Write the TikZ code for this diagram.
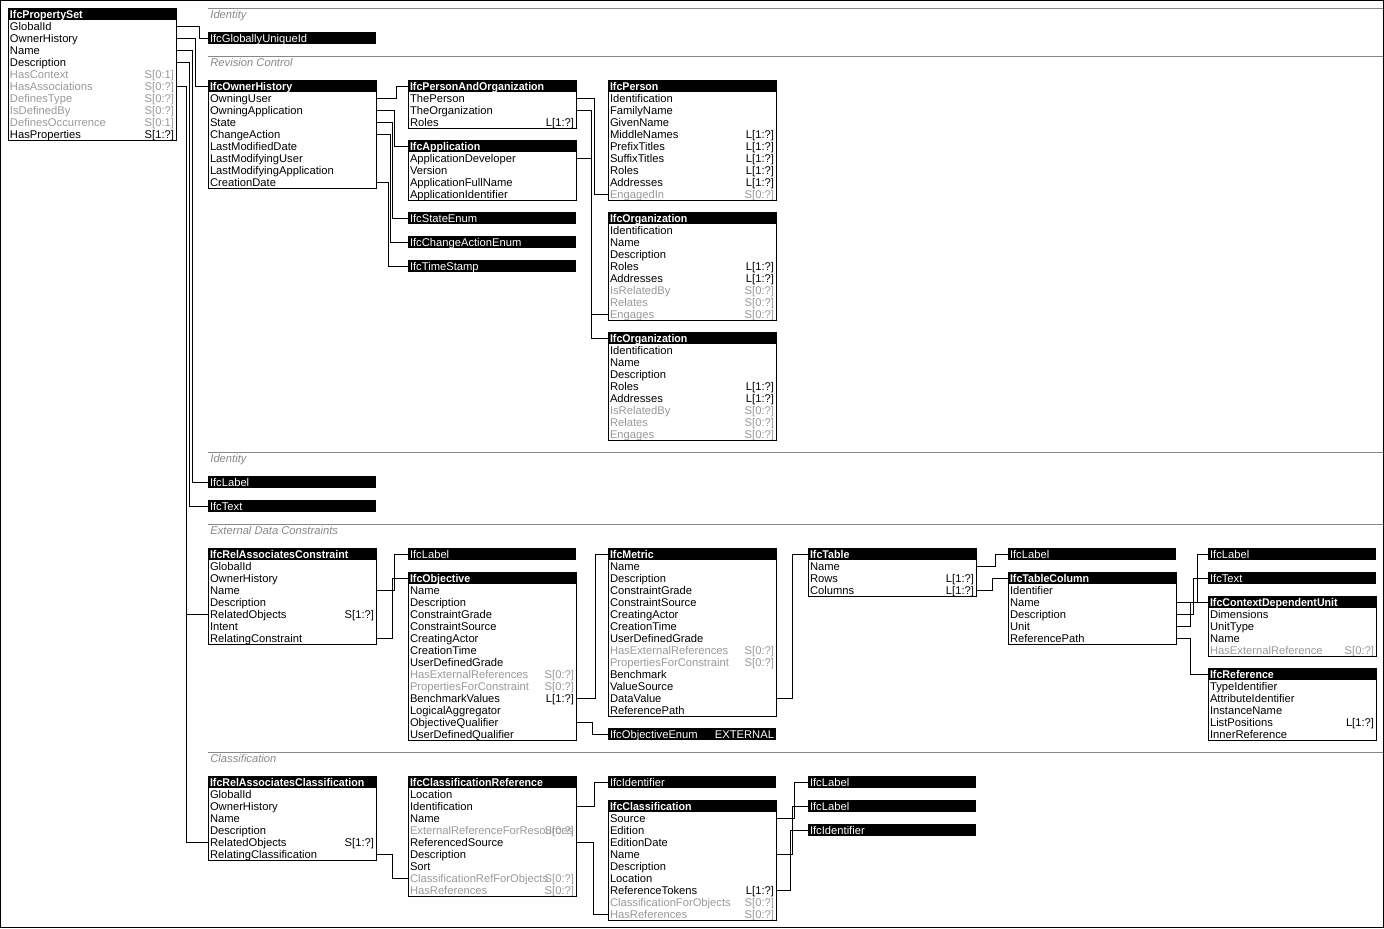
\documentclass[tikz,border=0pt]{standalone}
\usepackage{fontspec}
\setmainfont{Liberation Sans}
\newfontfamily\headfont[FakeStretch=0.95]{Liberation Sans}
\usetikzlibrary{positioning,calc}
\definecolor{invgray}{HTML}{999999}
\definecolor{rulegray}{HTML}{888888}

\tikzset{
  cell/.style={anchor=north west, inner xsep=1pt, inner ysep=0pt, outer sep=0pt, minimum width=84pt,
    minimum height=6pt, text height=4.8pt, text depth=0.6pt, font=\fontsize{5.6pt}{6pt}\selectfont},
  ehead/.style={cell, fill=black, text=white, font=\headfont\bfseries\fontsize{5.6pt}{6pt}\selectfont},
  etype/.style={cell, fill=black, text=white},
  attr/.style={text=black},
  inv/.style={text=invgray},
  eframe/.style={draw=black, line width=0.5pt},
  link/.style={draw=black, line width=0.5pt},
  elbow/.style={to path={-| ($(\tikztotarget)+(-#1,0)$) -- (\tikztotarget)}},
  sect/.style={anchor=north west, inner xsep=1pt, inner ysep=0.3pt, text height=4.8pt,
    text depth=0.6pt, text=rulegray, font=\itshape\fontsize{5.6pt}{6pt}\selectfont},
  rule/.style={draw=rulegray, line width=0.5pt},
}

% entity box: id, top left, title, rows name/card/look
\newcommand\ifcentity[4]{%
  \node[ehead, alias=#1] (#1-0) at (#2) {\hbox to 82pt{#3\hfil}};
  \foreach [count=\i, remember=\i as \j (initially 0)] \txt/\card/\look in {#4}{%
    \node[cell, \look, below=0pt of #1-\j] (#1-\i) {\hbox to 82pt{\rlap{\txt}\hfil\card}};
    \xdef\lastrow{\i}
  }
  \draw[eframe] (#1.north west) rectangle (#1-\lastrow.south east);
}
% defined type bar: id, top left, name, value
\newcommand\ifcbar[4]{%
  \node[etype] (#1) at (#2) {\hbox to 82pt{#3\hfil#4}};
}

\begin{document}
\begin{tikzpicture}[x=0.5pt, y=-0.5pt]
  \useasboundingbox (0,0) rectangle (1384,928);
  \draw[line width=0.5pt] (0.5,0.5) rectangle (1383.5,927.5);

  \foreach \sid/\sy/\stext in {ident/8/Identity, rev/56/Revision Control, ident2/452/Identity,
      ext/524/External Data Constraints, cls/752/Classification}{
    \node[sect] (sec-\sid) at (208,\sy) {\stext};
    \draw[rule] (sec-\sid.north west) -- (1383,\sy);
  }

  \ifcentity{ps}{8,8}{IfcPropertySet}{GlobalId//attr, OwnerHistory//attr, Name//attr,
    Description//attr, HasContext/S[0:1]/inv, HasAssociations/S[0:?]/inv, DefinesType/S[0:?]/inv,
    IsDefinedBy/S[0:?]/inv, DefinesOccurrence/S[0:1]/inv, HasProperties/S[1:?]/attr}

  % identity and revision control
  \ifcbar{guid}{208,32}{IfcGloballyUniqueId}{}
  \ifcentity{oh}{208,80}{IfcOwnerHistory}{OwningUser//attr, OwningApplication//attr, State//attr,
    ChangeAction//attr, LastModifiedDate//attr, LastModifyingUser//attr,
    LastModifyingApplication//attr, CreationDate//attr}
  \ifcentity{pao}{408,80}{IfcPersonAndOrganization}{ThePerson//attr, TheOrganization//attr,
    Roles/L[1:?]/attr}
  \ifcentity{app}{408,140}{IfcApplication}{ApplicationDeveloper//attr, Version//attr,
    ApplicationFullName//attr, ApplicationIdentifier//attr}
  \ifcbar{stateenum}{408,212}{IfcStateEnum}{}
  \ifcbar{chgenum}{408,236}{IfcChangeActionEnum}{}
  \ifcbar{tstamp}{408,260}{IfcTimeStamp}{}
  \ifcentity{person}{608,80}{IfcPerson}{Identification//attr, FamilyName//attr, GivenName//attr,
    MiddleNames/L[1:?]/attr, PrefixTitles/L[1:?]/attr, SuffixTitles/L[1:?]/attr, Roles/L[1:?]/attr,
    Addresses/L[1:?]/attr, EngagedIn/S[0:?]/inv}
  \ifcentity{org1}{608,212}{IfcOrganization}{Identification//attr, Name//attr, Description//attr,
    Roles/L[1:?]/attr, Addresses/L[1:?]/attr, IsRelatedBy/S[0:?]/inv, Relates/S[0:?]/inv,
    Engages/S[0:?]/inv}
  \ifcentity{org2}{608,332}{IfcOrganization}{Identification//attr, Name//attr, Description//attr,
    Roles/L[1:?]/attr, Addresses/L[1:?]/attr, IsRelatedBy/S[0:?]/inv, Relates/S[0:?]/inv,
    Engages/S[0:?]/inv}
  \ifcbar{lbl1}{208,476}{IfcLabel}{}
  \ifcbar{txt1}{208,500}{IfcText}{}

  % external data constraints
  \ifcentity{rac}{208,548}{IfcRelAssociatesConstraint}{GlobalId//attr, OwnerHistory//attr,
    Name//attr, Description//attr, RelatedObjects/S[1:?]/attr, Intent//attr, RelatingConstraint//attr}
  \ifcbar{lbl2}{408,548}{IfcLabel}{}
  \ifcentity{obj}{408,572}{IfcObjective}{Name//attr, Description//attr, ConstraintGrade//attr,
    ConstraintSource//attr, CreatingActor//attr, CreationTime//attr, UserDefinedGrade//attr,
    HasExternalReferences/S[0:?]/inv, PropertiesForConstraint/S[0:?]/inv, BenchmarkValues/L[1:?]/attr,
    LogicalAggregator//attr, ObjectiveQualifier//attr, UserDefinedQualifier//attr}
  \ifcentity{metric}{608,548}{IfcMetric}{Name//attr, Description//attr, ConstraintGrade//attr,
    ConstraintSource//attr, CreatingActor//attr, CreationTime//attr, UserDefinedGrade//attr,
    HasExternalReferences/S[0:?]/inv, PropertiesForConstraint/S[0:?]/inv, Benchmark//attr,
    ValueSource//attr, DataValue//attr, ReferencePath//attr}
  \ifcbar{objenum}{608,728}{IfcObjectiveEnum}{EXTERNAL}
  \ifcentity{table}{808,548}{IfcTable}{Name//attr, Rows/L[1:?]/attr, Columns/L[1:?]/attr}
  \ifcbar{lbl3}{1008,548}{IfcLabel}{}
  \ifcentity{tcol}{1008,572}{IfcTableColumn}{Identifier//attr, Name//attr, Description//attr,
    Unit//attr, ReferencePath//attr}
  \ifcbar{lbl4}{1208,548}{IfcLabel}{}
  \ifcbar{txt2}{1208,572}{IfcText}{}
  \ifcentity{cdu}{1208,596}{IfcContextDependentUnit}{Dimensions//attr, UnitType//attr, Name//attr,
    HasExternalReference/S[0:?]/inv}
  \ifcentity{ref}{1208,668}{IfcReference}{TypeIdentifier//attr, AttributeIdentifier//attr,
    InstanceName//attr, ListPositions/L[1:?]/attr, InnerReference//attr}

  % classification
  \ifcentity{rcl}{208,776}{IfcRelAssociatesClassification}{GlobalId//attr, OwnerHistory//attr,
    Name//attr, Description//attr, RelatedObjects/S[1:?]/attr, RelatingClassification//attr}
  \ifcentity{cref}{408,776}{IfcClassificationReference}{Location//attr, Identification//attr,
    Name//attr, ExternalReferenceForResources/S[0:?]/inv, ReferencedSource//attr, Description//attr,
    Sort//attr, ClassificationRefForObjects/S[0:?]/inv, HasReferences/S[0:?]/inv}
  \ifcbar{ident1}{608,776}{IfcIdentifier}{}
  \ifcentity{cls}{608,800}{IfcClassification}{Source//attr, Edition//attr, EditionDate//attr,
    Name//attr, Description//attr, Location//attr, ReferenceTokens/L[1:?]/attr,
    ClassificationForObjects/S[0:?]/inv, HasReferences/S[0:?]/inv}
  \ifcbar{lbl5}{808,776}{IfcLabel}{}
  \ifcbar{lbl6}{808,800}{IfcLabel}{}
  \ifcbar{ident2}{808,824}{IfcIdentifier}{}

  % connectors
  \draw[link] (ps-1.east) to[elbow=9] (guid.west);
  \draw[link] (ps-2.east) to[elbow=13] (oh.west);
  \draw[link] (ps-3.east) to[elbow=16] (lbl1.west);
  \draw[link] (ps-4.east) to[elbow=19] (txt1.west);
  \draw[link] (ps-6.east) to[elbow=22] (rac-5.west);
  \draw[link] (ps-6.east) to[elbow=22] (rcl-5.west);
  \draw[link] (oh-1.east) to[elbow=12] (pao.west);
  \draw[link] (oh-2.east) to[elbow=14] (app.west);
  \draw[link] (oh-3.east) to[elbow=16] (stateenum.west);
  \draw[link] (oh-4.east) to[elbow=18] (chgenum.west);
  \draw[link] (oh-8.east) to[elbow=20] (tstamp.west);
  \draw[link] (pao-1.east) to[elbow=14] (person-9.west);
  \draw[link] (pao-2.east) to[elbow=17] (org1-8.west);
  \draw[link] (app-1.east) to[elbow=17] (org2.west);
  \draw[link] (rac-3.east) to[elbow=14] (lbl2.west);
  \draw[link] (rac-7.east) to[elbow=16] (obj.west);
  \draw[link] (obj-10.east) to[elbow=13] (metric.west);
  \draw[link] (obj-12.east) to[elbow=16] (objenum.west);
  \draw[link] (metric-12.east) to[elbow=16] (table.west);
  \draw[link] (table-1.east) to[elbow=13] (lbl3.west);
  \draw[link] (table-3.east) to[elbow=16] (tcol.west);
  \draw[link] (tcol-2.east) to[elbow=11] (lbl4.west);
  \draw[link] (tcol-3.east) to[elbow=15] (txt2.west);
  \draw[link] (tcol-4.east) to[elbow=18] (cdu.west);
  \draw[link] (tcol-5.east) to[elbow=18] (ref.west);
  \draw[link] (rcl-6.east) to[elbow=16] (cref-8.west);
  \draw[link] (cref-2.east) to[elbow=14] (ident1.west);
  \draw[link] (cref-5.east) to[elbow=15] (cls-9.west);
  \draw[link] (cls-1.east) to[elbow=14] (lbl5.west);
  \draw[link] (cls-4.east) to[elbow=16] (lbl6.west);
  \draw[link] (cls-7.east) to[elbow=18] (ident2.west);
\end{tikzpicture}
\end{document}
